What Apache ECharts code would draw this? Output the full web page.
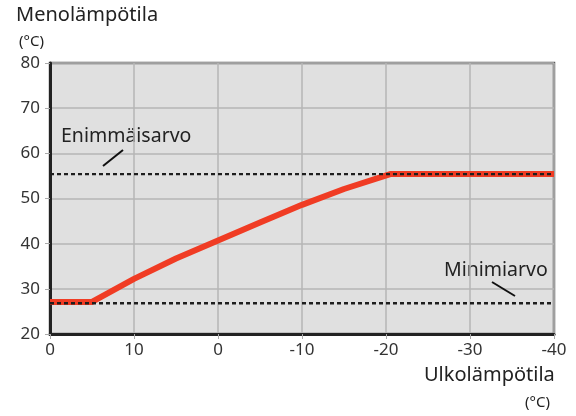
<!DOCTYPE html>
<html>
<head>
<meta charset="utf-8">
<script src="https://cdn.jsdelivr.net/npm/echarts@6/dist/echarts.min.js"></script>
<style>
html,body{margin:0;padding:0;background:#fff;}
#c{width:576px;height:416px;}
</style>
</head>
<body>
<div id="c"></div>
<script>
// Data
var outdoorTemps = [20, 15, 10, 5, 0, -5, -10, -15, -20.5, -40];
var supplyTemps  = [27.1, 27.1, 32.2, 36.7, 40.7, 44.7, 48.6, 52.1, 55.4, 55.4];
var maxLineX = [20, -40];
var maxLineY = [55.4, 55.4];
var minLineX = [20, -40];
var minLineY = [26.8, 26.8];
var xTickValues = [20, 10, 0, -10, -20, -30, -40];
var xTickLabels = ["0", "10", "0", "-10", "-20", "-30", "-40"];
var yTickLabels = ["20", "30", "40", "50", "60", "70", "80"];

function pairs(xs, ys){ return xs.map(function(x,i){ return [x, ys[i]]; }); }

var FONT = 'Noto Sans';
var chart = echarts.init(document.getElementById('c'), null, {renderer:'canvas'});
chart.setOption({
  animation:false,
  backgroundColor:'#ffffff',
  grid:{left:50, top:63, width:504, height:271, show:true, backgroundColor:'#e0e0e0', borderColor:'#5e5e5e', borderWidth:2.5},
  xAxis:{
    type:'value', inverse:true, min:-40, max:20, interval:10,
    axisLine:{show:true, onZero:false, lineStyle:{color:'#222', width:3}},
    axisTick:{show:true, length:5, lineStyle:{color:'#aaa', width:1}},
    axisLabel:{fontFamily:FONT, fontSize:17, color:'#333', margin:8,
      formatter:function(v){ var i = xTickValues.indexOf(v); return i>=0 ? xTickLabels[i] : ''; }},
    splitLine:{show:true, lineStyle:{color:'#b6b6b6', width:1.5}}
  },
  yAxis:{
    type:'value', min:20, max:80, interval:10,
    axisLine:{show:true, onZero:false, lineStyle:{color:'#222', width:3}},
    axisTick:{show:true, length:5, lineStyle:{color:'#aaa', width:1}},
    axisLabel:{fontFamily:FONT, fontSize:17, color:'#333', margin:10,
      formatter:function(v){ var i = yTickLabels.indexOf(String(v)); return i>=0 ? yTickLabels[i] : ''; }},
    splitLine:{show:true, lineStyle:{color:'#b6b6b6', width:1.5}}
  },
  series:[
    {type:'line', data:pairs(outdoorTemps, supplyTemps), symbol:'none', smooth:false,
     lineStyle:{color:'#f03c24', width:6, cap:'butt', join:'round'}, z:3},
    {type:'line', data:pairs(maxLineX, maxLineY), symbol:'none',
     lineStyle:{color:'#1e1e1e', width:2.4, type:[4,3]}, z:4},
    {type:'line', data:pairs(minLineX, minLineY), symbol:'none',
     lineStyle:{color:'#1e1e1e', width:2.4, type:[4,3]}, z:4}
  ],
  graphic:[
    {type:'text', left:16, top:5, style:{text:'Menolämpötila', fontFamily:FONT, fontSize:20, fill:'#222'}},
    {type:'text', left:19, top:34, style:{text:'(°C)', fontFamily:FONT, fontSize:15, fill:'#222'}},
    {type:'text', left:424, top:365, style:{text:'Ulkolämpötila', fontFamily:FONT, fontSize:20, fill:'#222'}},
    {type:'text', left:525, top:395, style:{text:'(°C)', fontFamily:FONT, fontSize:15, fill:'#222'}},
    {type:'text', left:61, top:126, style:{text:'Enimmäisarvo', fontFamily:FONT, fontSize:19.5, fill:'#222'}},
    {type:'line', shape:{x1:103, y1:166, x2:123, y2:150}, style:{stroke:'#111', lineWidth:2}, z:10},
    {type:'text', left:444, top:260, style:{text:'Minimiarvo', fontFamily:FONT, fontSize:19.5, fill:'#222'}},
    {type:'line', shape:{x1:492, y1:282, x2:515, y2:296}, style:{stroke:'#111', lineWidth:2}, z:10}
  ]
});
</script>
</body>
</html>
